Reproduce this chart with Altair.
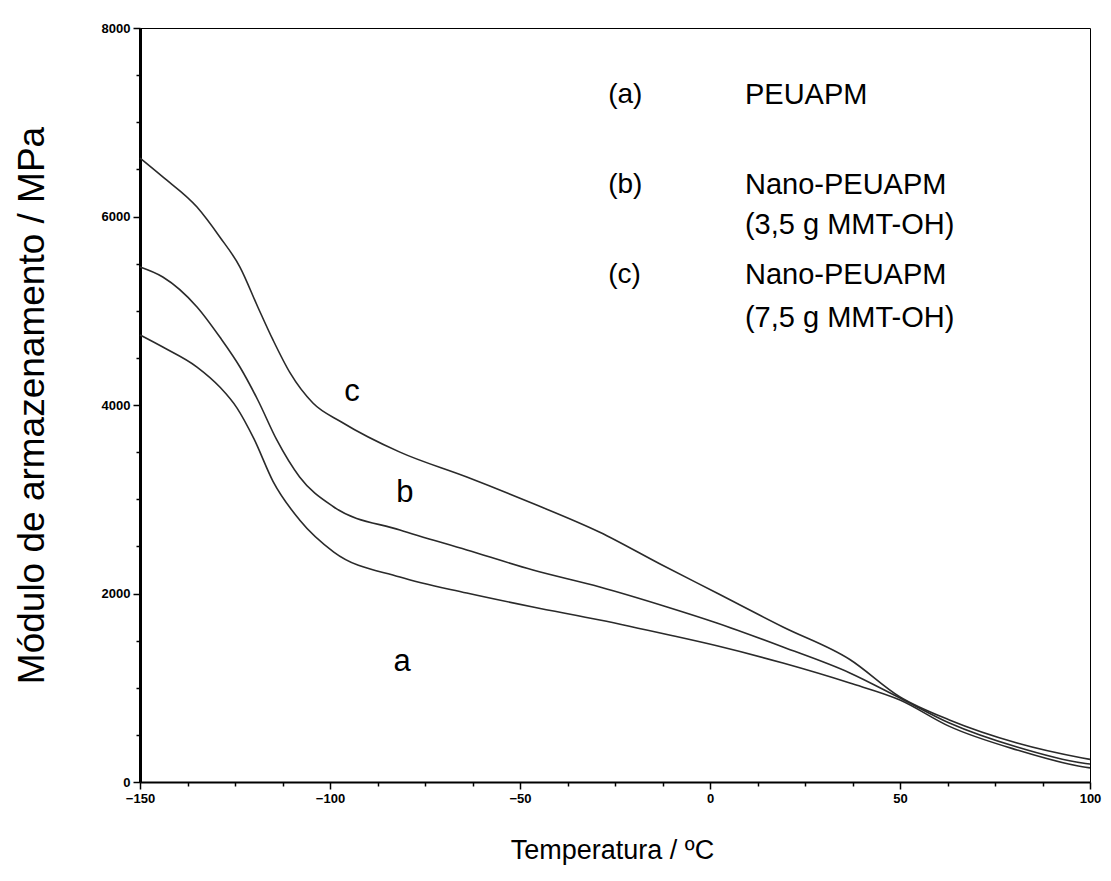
import altair as alt
import pandas as pd

# Curve (a) PEUAPM
temp_a = [-150, -144, -135, -129, -124.5, -120, -115, -108, -99, -81.6, -64, -46.6, -29, -11.3, 1.8, 19.2, 36.8, 50, 63, 80.8, 98, 100]
mod_a = [4743, 4615, 4403, 4191, 3970, 3640, 3190, 2780, 2440, 2175, 2005, 1857, 1719, 1565, 1445, 1262, 1050, 870, 590, 340, 162, 150]

# Curve (b) Nano-PEUAPM 3,5 g
temp_b = [-150, -144, -135, -129, -123.7, -119, -114, -108, -99, -81.6, -64, -46.6, -29, -11.3, 1.8, 19.2, 36.8, 50, 63, 80.8, 98, 100]
mod_b = [5464, 5358, 5040, 4721, 4403, 4053, 3629, 3236, 2918, 2674, 2462, 2249, 2069, 1857, 1687, 1432, 1157, 891, 626, 371, 201, 190]

# Curve (c) Nano-PEUAPM 7,5 g
temp_c = [-150, -144, -135, -129, -123.7, -119, -115, -110.5, -104.5, -97, -81.6, -64, -46.6, -29, -13, 1.8, 19.2, 36.8, 50, 63, 80.8, 98, 100]
mod_c = [6620, 6420, 6100, 5783, 5464, 5040, 4690, 4340, 4021, 3820, 3500, 3236, 2955, 2650, 2310, 2005, 1645, 1300, 902, 658, 414, 255, 240]

# Legend text inside plot
leg_x_tag = [-26.8, -26.8, -26.8]
leg_tag = ["(a)", "(b)", "(c)"]
leg_tag_y = [7289, 6334, 5379]
leg_x_name = [9.2, 9.2, 9.2, 9.2, 9.2]
leg_name = ["PEUAPM", "Nano-PEUAPM", "(3,5 g MMT-OH)", "Nano-PEUAPM", "(7,5 g MMT-OH)"]
leg_name_y = [7289, 6334, 5910, 5379, 4923]

# Curve labels
lab_text = ["c", "b", "a"]
lab_x = [-94.2, -80.3, -81]
lab_y = [4138, 3066, 1273]

x_ticks = [-150 + 12.5 * i for i in range(21)]
y_ticks = [500 * i for i in range(17)]

rows = []
for name, t, m in (("a", temp_a, mod_a), ("b", temp_b, mod_b), ("c", temp_c, mod_c)):
    for ti, mi in zip(t, m):
        rows.append({"serie": name, "T": ti, "E": mi})
df = pd.DataFrame(rows)

FONT = "Liberation Sans"

xscale = alt.Scale(domain=[-150, 100], nice=False, zero=False)
yscale = alt.Scale(domain=[0, 8000], nice=False)

xaxis = alt.Axis(
    values=x_ticks,
    labelExpr="datum.value % 50 === 0 ? datum.label : ''",
    format="d",
    grid=False,
    domainWidth=2,
    domainColor="black",
    tickColor="black",
    tickSize={"condition": {"test": "datum.value % 50 === 0", "value": 7}, "value": 4},
    tickWidth=1.5,
    labelFont=FONT,
    labelFontSize=13,
    labelFontWeight="bold",
    labelColor="black",
    labelPadding=3,
    labelFlush=False,
    title="Temperatura / ºC",
    titleFont=FONT,
    titleFontSize=27,
    titleFontWeight="normal",
    titleColor="black",
    titleX=472,
    titleY=68,
    titleAlign="center",
    titleBaseline="middle",
)

yaxis = alt.Axis(
    values=y_ticks,
    labelExpr="datum.value % 2000 === 0 ? datum.label : ''",
    format="d",
    grid=False,
    domainWidth=3,
    domainColor="black",
    tickColor="black",
    tickSize={"condition": {"test": "datum.value % 2000 === 0", "value": 7}, "value": 4},
    tickWidth=1.5,
    labelFont=FONT,
    labelFontSize=13,
    labelFontWeight="bold",
    labelColor="black",
    labelPadding=3,
    title="Módulo de armazenamento / MPa",
    titleFont=FONT,
    titleFontSize=37,
    titleFontWeight="normal",
    titleColor="black",
    titleAngle=-90,
    titleX=-108,
    titleY=377,
    titleAlign="center",
    titleBaseline="middle",
)

lines = alt.Chart(df).mark_line(color="#2a2a2a", strokeWidth=1.6, interpolate="monotone").encode(
    x=alt.X("T:Q", scale=xscale, axis=xaxis),
    y=alt.Y("E:Q", scale=yscale, axis=yaxis),
    detail="serie:N",
)

tags = alt.Chart(pd.DataFrame({"x": leg_x_tag, "y": leg_tag_y, "t": leg_tag})).mark_text(
    font=FONT, fontSize=28, align="left", baseline="middle", color="black"
).encode(x=alt.X("x:Q", scale=xscale), y=alt.Y("y:Q", scale=yscale), text="t:N")

names = alt.Chart(pd.DataFrame({"x": leg_x_name, "y": leg_name_y, "t": leg_name})).mark_text(
    font=FONT, fontSize=29, align="left", baseline="middle", color="black"
).encode(x=alt.X("x:Q", scale=xscale), y=alt.Y("y:Q", scale=yscale), text="t:N")

labels = alt.Chart(pd.DataFrame({"x": lab_x, "y": lab_y, "t": lab_text})).mark_text(
    font=FONT, fontSize=31, align="center", baseline="middle", color="black"
).encode(x=alt.X("x:Q", scale=xscale), y=alt.Y("y:Q", scale=yscale), text="t:N")

chart = alt.layer(lines, tags, names, labels).properties(
    width=950,
    height=754,
    autosize=alt.AutoSizeParams(type="none"),
    padding={"left": 132, "top": 20, "right": 13, "bottom": 91},
    background="white",
).configure_view(stroke="black", strokeWidth=1)

chart.save("out.html", embed_options={"renderer": "svg", "actions": False})
